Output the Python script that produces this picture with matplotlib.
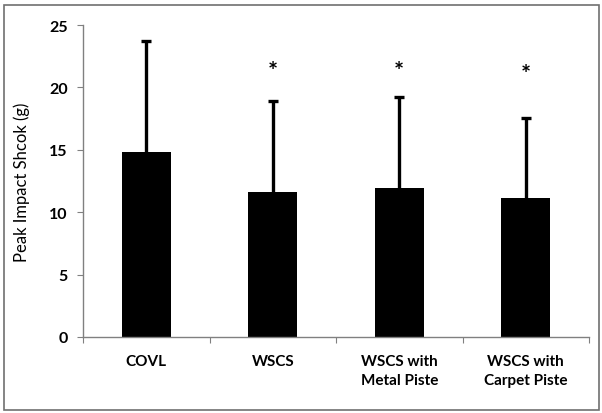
import matplotlib
matplotlib.use("Agg")
import matplotlib.pyplot as plt
from matplotlib.patches import Rectangle

categories = ["COVL", "WSCS", "WSCS with\nMetal Piste", "WSCS with\nCarpet Piste"]
means = [14.85, 11.6, 11.95, 11.1]
sd_upper = [8.85, 7.33, 7.25, 6.47]
significant = [False, True, True, True]
star_y = [None, 21.3, 21.3, 21.0]
yticks = [0, 5, 10, 15, 20, 25]

plt.rcParams['font.family'] = ['Lato', 'DejaVu Sans']

fig = plt.figure(figsize=(6.02, 4.14), dpi=100)
ax = fig.add_axes([83/602, 1 - 338/414, (589-83)/602, (338-26)/414])

x = list(range(len(categories)))
tops = [m + s for m, s in zip(means, sd_upper)]
ax.bar(x, means, width=0.39, color='black', zorder=2)
ax.vlines(x, means, tops, colors='black', linewidth=2.4, zorder=3)
ax.scatter(x, tops, marker='_', s=55, linewidths=2.4, color='black', zorder=3)
for xi, sig, sy in zip(x, significant, star_y):
    if sig:
        ax.text(xi, sy, "*", ha='center', va='center', fontsize=17, fontweight='bold')

ax.set_xlim(-0.5, len(categories) - 0.5)
ax.set_ylim(0, 25)
ax.set_yticks(yticks)
ax.set_yticklabels([str(t) for t in yticks], fontsize=11.5, fontweight='bold')
ax.set_xticks([i - 0.5 for i in range(len(categories) + 1)])
ax.set_xticklabels([])
ax.set_xticks(x, minor=True)
ax.set_xticklabels(categories, minor=True, fontsize=11, fontweight='bold',
                   linespacing=1.45)
ax.tick_params(axis='x', which='minor', length=0, pad=12)
ax.tick_params(axis='x', which='major', length=4, direction='out', color='#808080')
ax.tick_params(axis='y', length=4, direction='out', color='#808080', pad=7)
for s in ['top', 'right']:
    ax.spines[s].set_visible(False)
for s in ['left', 'bottom']:
    ax.spines[s].set_color('#808080')
    ax.spines[s].set_linewidth(1.0)
ax.set_ylabel("Peak Impact Shcok (g)", fontsize=12, labelpad=14)

fig.patches.append(Rectangle((4/602, 3/414), 595/602, 405/414, transform=fig.transFigure,
                             fill=False, edgecolor='#707070', linewidth=1.2))

fig.savefig("out.png", dpi=100)
